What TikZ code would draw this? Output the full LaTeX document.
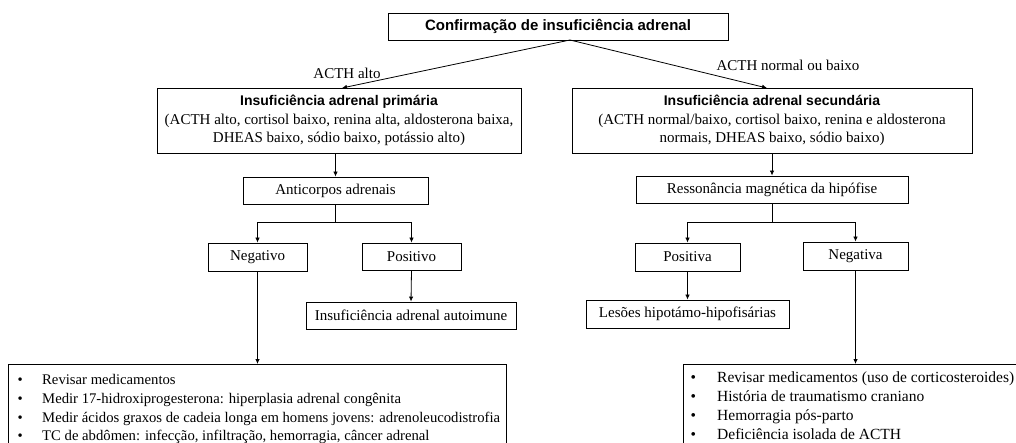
\documentclass[tikz,border=0pt]{standalone}
\usepackage{fontspec}
\setmainfont{Liberation Serif}
\newfontfamily\hsans{Liberation Sans}
\usetikzlibrary{arrows.meta}
\begin{document}
\begin{tikzpicture}[x=1pt,y=-1pt,
  box/.style={draw,line width=0.9pt,inner sep=0pt,align=center,font=\fontsize{15}{18.5}\selectfont},
  lbl/.style={inner sep=0pt,font=\fontsize{15}{18}\selectfont},
  arr/.style={-{Latex[length=5pt,width=4.5pt]},line width=0.8pt},
  itm/.style={anchor=base west,inner sep=0pt,font=\fontsize{14.7}{18}\selectfont},
  itmr/.style={anchor=base west,inner sep=0pt,font=\fontsize{15.5}{19}\selectfont}]
\useasboundingbox (0,0) rectangle (1016,443);
\clip (0,0) rectangle (1016,443);
% boxes
\node[box,minimum width=340pt,minimum height=27pt,font=\hsans\bfseries\fontsize{15}{18}\selectfont] (top) at (558,26.5) {Confirmação de insuficiência adrenal};
\node[box,minimum width=364pt,minimum height=65pt] (prim) at (339,120.5) {{\hsans\bfseries\fontsize{14}{18}\selectfont Insuficiência adrenal primária}\\(ACTH alto, cortisol baixo, renina alta, aldosterona baixa,\\DHEAS baixo, sódio baixo, potássio alto)};
\node[box,minimum width=400pt,minimum height=65pt] (sec) at (772,120.5) {{\hsans\bfseries\fontsize{14}{18}\selectfont Insuficiência adrenal secundária}\\(ACTH normal/baixo, cortisol baixo, renina e aldosterona\\normais, DHEAS baixo, sódio baixo)};
\node[box,minimum width=185pt,minimum height=27pt] (anti) at (335.5,190.5) {Anticorpos adrenais};
\node[box,minimum width=99pt,minimum height=28pt] (neg) at (257.5,257) {Negativo};
\node[box,minimum width=99pt,minimum height=27pt] (pos) at (411.5,256.5) {Positivo};
\node[box,minimum width=210pt,minimum height=27pt] (auto) at (411,315.5) {Insuficiência adrenal autoimune};
\node[box,minimum width=272pt,minimum height=27pt] (rm) at (772,189.5) {Ressonância magnética da hipófise};
\node[box,minimum width=105pt,minimum height=28pt] (posa) at (687.5,257) {Positiva};
\node[box,minimum width=105pt,minimum height=28pt] (nega) at (855.5,256) {Negativa};
\node[box,minimum width=203pt,minimum height=28pt] (les) at (687.5,314) {Lesões hipotámo-hipofisárias};
\node[box,anchor=north west,minimum width=498pt,minimum height=120pt] (listL) at (8,364) {};
\node[box,anchor=north west,minimum width=400pt,minimum height=120pt] (listR) at (683,364) {};
% labels
\node[lbl] (la) at (347,73) {ACTH alto};
\node[lbl] (lb) at (788,65) {ACTH normal ou baixo};
% list items
\node[itm] (a1) at (17.5,384.5) {\makebox[24.5pt][l]{•}Revisar medicamentos};
\node[itm] (a2) at (17.5,403.5) {\makebox[24.5pt][l]{•}Medir 17-hidroxiprogesterona: hiperplasia adrenal congênita};
\node[itm] (a3) at (17.5,422) {\makebox[24.5pt][l]{•}Medir ácidos graxos de cadeia longa em homens jovens: adrenoleucodistrofia};
\node[itm] (a4) at (17.5,440.5) {\makebox[24.5pt][l]{•}TC de abdômen: infecção, infiltração, hemorragia, câncer adrenal};
\node[itmr] (b1) at (690.5,382) {\makebox[26.5pt][l]{•}Revisar medicamentos (uso de corticosteroides)};
\node[itmr] (b2) at (690.5,401) {\makebox[26.5pt][l]{•}História de traumatismo craniano};
\node[itmr] (b3) at (690.5,420) {\makebox[26.5pt][l]{•}Hemorragia pós-parto};
\node[itmr] (b4) at (690.5,439) {\makebox[26.5pt][l]{•}Deficiência isolada de ACTH};
% connectors
\coordinate (ts) at (570,40);
\coordinate (pe) at (342,88);
\coordinate (se) at (767,88);
\draw[arr] (ts) -- (pe);
\draw[arr] (ts) -- (se);
\draw[arr] (prim.south -| anti.north) -- (anti.north);
\draw[arr] (anti.south) -- ++(0,18) -| (neg.north);
\draw[arr] (anti.south) ++(0,18) -| (pos.north);
\draw[arr] (pos.south) -- (auto.north);
\draw[arr] (neg.south) -- (neg.south |- listL.north);
\draw[arr] (sec.south) -- (rm.north);
\draw[arr] (rm.south) -- ++(0,19) -| (posa.north);
\draw[arr] (rm.south) ++(0,19) -| (nega.north);
\draw[arr] (posa.south) -- (les.north);
\draw[arr] (nega.south) -- (nega.south |- listR.north);
\end{tikzpicture}
\end{document}
